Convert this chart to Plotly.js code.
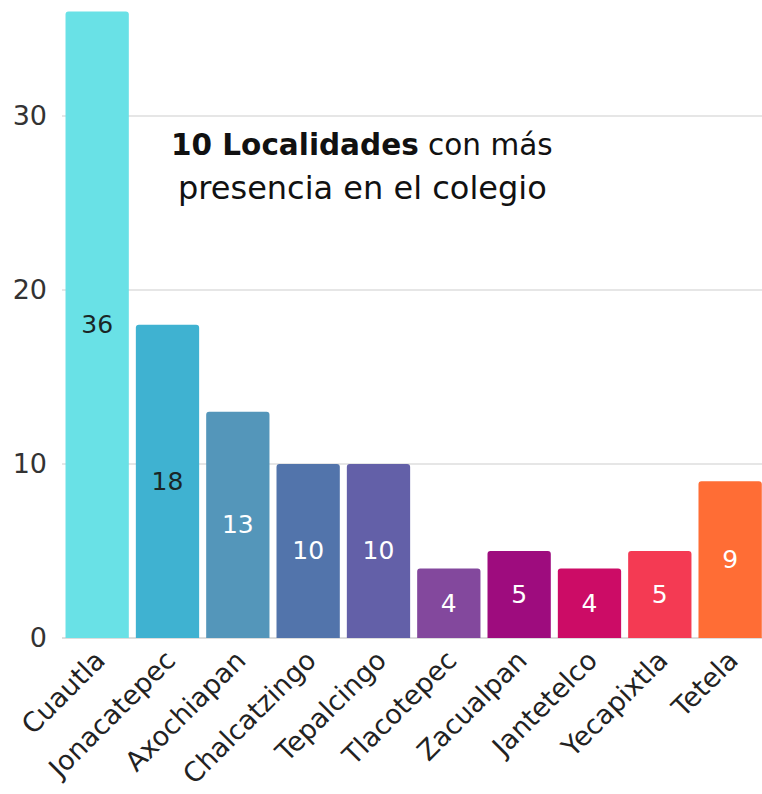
<!DOCTYPE html>
<html>
<head>
<meta charset="utf-8">
<script src="https://cdn.plot.ly/plotly-3.0.1.min.js"></script>
<style>html,body{margin:0;padding:0;background:#fff;}#chart{width:762px;height:794px;}</style>
</head>
<body>
<div id="chart"></div>
<script>
const localidades = ["Cuautla","Jonacatepec","Axochiapan","Chalcatzingo","Tepalcingo","Tlacotepec","Zacualpan","Jantetelco","Yecapixtla","Tetela"];
const alumnos = [36,18,13,10,10,4,5,4,5,9];
const colores = ["#69e1e6","#3fb2d1","#5496ba","#5274ab","#6360a8","#83489d","#9e0c7e","#cc0c66","#f43a53","#ff6d35"];
const coloresTexto = ["#1a2626","#1a2626","#ffffff","#ffffff","#ffffff","#ffffff","#ffffff","#ffffff","#ffffff","#ffffff"];
const yTicks = [0,10,20,30];
const tituloLinea1 = "<b>10 Localidades</b> con más";
const tituloLinea2 = "presencia en el colegio";

const FONT = "DejaVu Sans, sans-serif";

const trace = {
  type: "bar",
  x: localidades,
  y: alumnos,
  text: alumnos.map(String),
  textposition: "inside",
  insidetextanchor: "middle",
  textangle: 0,
  textfont: {family: FONT, size: 25, color: coloresTexto},
  marker: {color: colores, cornerradius: 3, line: {width: 0}},
  hoverinfo: "none"
};

const layout = {
  width: 762, height: 794,
  margin: {l: 62, r: 0, t: 8, b: 156},
  paper_bgcolor: "#ffffff",
  plot_bgcolor: "#ffffff",
  bargap: 0.1,
  showlegend: false,
  font: {family: FONT, color: "#333333"},
  xaxis: {
    range: [-0.5, 9.453],
    tickangle: -45,
    tickfont: {family: FONT, size: 27, color: "#222222"},
    showgrid: false,
    showline: false,
    ticks: ""
  },
  yaxis: {
    range: [0, 36.2],
    tickvals: yTicks,
    ticktext: yTicks.map(String),
    tickfont: {family: FONT, size: 27, color: "#333333"},
    showgrid: true,
    gridcolor: "#e6e6e6",
    gridwidth: 2,
    zeroline: true,
    zerolinecolor: "#dddddd",
    zerolinewidth: 2,
    ticks: "",
    ticklabelstandoff: 14
  },
  annotations: [
    {
      xref: "paper", yref: "paper",
      x: 0.4286, y: 0.7825,
      xanchor: "center", yanchor: "middle",
      showarrow: false,
      text: tituloLinea1,
      font: {family: FONT, size: 29.5, color: "#111111"}
    },
    {
      xref: "paper", yref: "paper",
      x: 0.4286, y: 0.7143,
      xanchor: "center", yanchor: "middle",
      showarrow: false,
      text: tituloLinea2,
      font: {family: FONT, size: 32, color: "#111111"}
    }
  ]
};

Plotly.newPlot("chart", [trace], layout, {displayModeBar: false, staticPlot: true});
</script>
</body>
</html>
